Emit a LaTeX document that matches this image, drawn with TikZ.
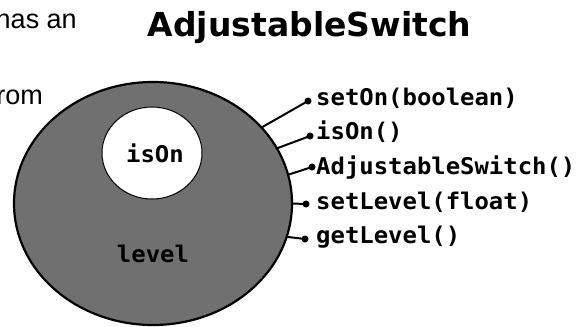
\documentclass[tikz,border=0pt]{standalone}
\usepackage{fontspec}
\usetikzlibrary{shapes.geometric}
\setmainfont{Liberation Sans}
\newfontfamily\titlefont{DejaVu Sans}
\newfontfamily\codefont{DejaVu Sans Mono}[FakeStretch=1.04]
\definecolor{bodygray}{RGB}{112,112,112}
\tikzset{
  body/.style={ellipse, draw=black, line width=2.2pt, fill=bodygray,
    minimum width=278pt, minimum height=243pt, inner sep=0pt, outer sep=0pt},
  field/.style={ellipse, draw=black, line width=1pt, fill=white,
    minimum width=100pt, minimum height=92pt, inner sep=0pt, outer sep=0pt},
  code/.style={font=\codefont\bfseries\fontsize{23}{27}\selectfont, inner sep=0pt},
  method/.style={code, anchor=base west},
  port/.style={circle, fill=black, minimum size=7pt, inner sep=0pt},
  wire/.style={line width=2pt},
  prose/.style={font=\fontsize{27}{32}\selectfont, inner sep=0pt, anchor=base east}
}
\begin{document}
\begin{tikzpicture}[x=1pt, y=-1pt]
\useasboundingbox (0,0) rectangle (579,327);

% surrounding slide text
\node[prose] (t1) at (77,28) {has an};
\node[prose] (t2) at (43,104) {rom};

% heading
\node[font=\titlefont\bfseries\fontsize{33}{40}\selectfont, inner sep=0pt, anchor=base]
  (title) at (309.5,36) {AdjustableSwitch};

% object body and its private fields
\node[body] (obj) at (153,203.5) {};
\node[field] (on) at (152,153) {};
\node[code, anchor=base] (onlbl) at (155,162) {isOn};
\node[code, anchor=base] (lvl) at (153,262) {level};

% interface ports
\node[port] (p1) at (308,101) {};
\node[port] (p2) at (310,136) {};
\node[port] (p3) at (312,167) {};
\node[port] (p4) at (306,204) {};
\node[port] (p5) at (305,239) {};

\draw[wire] (obj.35.4) -- (p1.center);
\draw[wire] (obj.24.5) -- (p2.center);
\draw[wire] (obj.12.7) -- (p3.center);
\draw[wire] (obj.-0.6) -- (p4.center);
\draw[wire] (obj.-14.7) -- (p5.center);

% method names
\node[method] (m1) at (316,105) {setOn(boolean)};
\node[method] (m2) at (316,139.5) {isOn()};
\node[method] (m3) at (316,174.5) {AdjustableSwitch()};
\node[method] (m4) at (316,209) {setLevel(float)};
\node[method] (m5) at (316,243.5) {getLevel()};
\end{tikzpicture}
\end{document}
